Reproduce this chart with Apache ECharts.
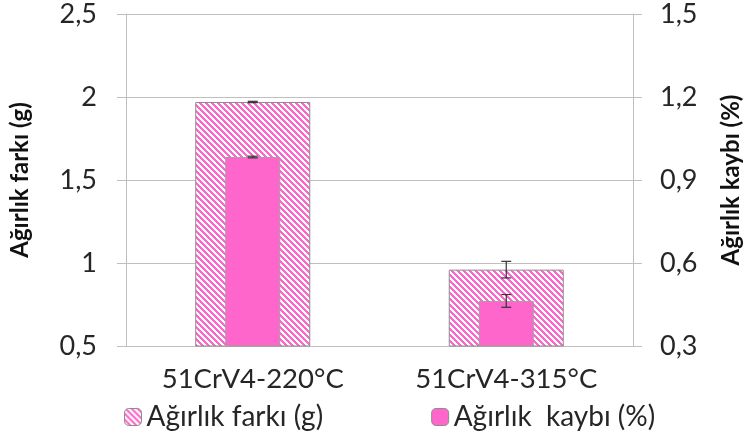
<!DOCTYPE html>
<html>
<head>
<meta charset="utf-8">
<script src="https://cdn.jsdelivr.net/npm/echarts@6/dist/echarts.min.js"></script>
<style>
  html, body { margin: 0; padding: 0; background: #fff; }
  #main { width: 751px; height: 445px; }
</style>
</head>
<body>
<div id="main"></div>
<script>
// data
var categories = ['51CrV4-220°C', '51CrV4-315°C'];
var farkValues = [1.97, 0.96];      // Ağırlık farkı (g), left axis
var farkErr = [0.004, 0.05];
var kaybiValues = [0.983, 0.463];   // Ağırlık kaybı (%), right axis
var kaybiErr = [0.003, 0.023];

var FONT = 'Lato';
var PINK = '#FF66CC';
var GRID = '#BFBFBF';
var TXT = '#262626';

// diagonal hatch pattern "\\\"
function makeHatch() {
  var n = 6;
  var c = document.createElement('canvas');
  c.width = n; c.height = n;
  var ctx = c.getContext('2d');
  var img = ctx.createImageData(n, n);
  for (var y = 0; y < n; y++) {
    for (var x = 0; x < n; x++) {
      var i = (y * n + x) * 4;
      var pink = ((x - y + n * 2) % n) < 3;
      img.data[i] = 255;
      img.data[i + 1] = pink ? 102 : 255;
      img.data[i + 2] = pink ? 204 : 255;
      img.data[i + 3] = 255;
    }
  }
  ctx.putImageData(img, 0, 0);
  return c;
}
var hatch = { image: makeHatch(), repeat: 'repeat' };

function errorBars(values, errs, xIdx, yIdx) {
  return {
    type: 'custom',
    xAxisIndex: xIdx,
    yAxisIndex: yIdx,
    silent: true,
    z: 10,
    data: values.map(function (v, i) { return [i, v - errs[i], v + errs[i]]; }),
    renderItem: function (params, api) {
      var lo = api.coord([api.value(0), api.value(1)]);
      var hi = api.coord([api.value(0), api.value(2)]);
      var w = 5;
      var st = { stroke: '#333', lineWidth: 1.2 };
      return {
        type: 'group',
        children: [
          { type: 'line', shape: { x1: lo[0], y1: lo[1], x2: hi[0], y2: hi[1] }, style: st },
          { type: 'line', shape: { x1: lo[0] - w, y1: lo[1], x2: lo[0] + w, y2: lo[1] }, style: st },
          { type: 'line', shape: { x1: hi[0] - w, y1: hi[1], x2: hi[0] + w, y2: hi[1] }, style: st }
        ]
      };
    }
  };
}

var chart = echarts.init(document.getElementById('main'), null, { renderer: 'canvas' });

var option = {
  animation: false,
  textStyle: { fontFamily: FONT },
  grid: { left: 119, right: 111, top: 14, bottom: 99, containLabel: false },
  legend: {
    left: 119,
    top: 398,
    itemWidth: 17,
    itemHeight: 17,
    itemGap: 108,
    itemStyle: { borderColor: '#8C8C8C', borderWidth: 1 },
    textStyle: { fontFamily: FONT, fontSize: 28, color: TXT },
    data: ['Ağırlık farkı (g)', 'Ağırlık  kaybı (%)']
  },
  xAxis: [{
    type: 'category',
    data: categories,
    axisLine: { lineStyle: { color: GRID } },
    axisTick: { length: 9, lineStyle: { color: GRID } },
    axisLabel: { fontFamily: FONT, fontSize: 27.5, color: TXT, margin: 19 }
  }, {
    type: 'category',
    data: categories,
    show: false
  }],
  yAxis: [{
    type: 'value',
    min: 0.5, max: 2.5, interval: 0.5,
    name: 'Ağırlık farkı (g)',
    nameLocation: 'middle',
    nameRotate: 90,
    nameGap: 94,
    nameTextStyle: { fontFamily: FONT, fontSize: 24, fontWeight: 'bold', color: '#111' },
    axisLine: { show: true, lineStyle: { color: GRID } },
    axisTick: { show: true, length: 9, lineStyle: { color: GRID } },
    splitLine: { lineStyle: { color: GRID } },
    axisLabel: {
      fontFamily: FONT, fontSize: 27, color: TXT, margin: 29,
      formatter: function (v) { return String(v).replace('.', ','); }
    }
  }, {
    type: 'value',
    min: 0.3, max: 1.5, interval: 0.3,
    position: 'right',
    name: 'Ağırlık kaybı (%)',
    nameLocation: 'middle',
    nameRotate: 90,
    nameGap: 86,
    nameTextStyle: { fontFamily: FONT, fontSize: 24, fontWeight: 'bold', color: '#111' },
    axisLine: { show: true, lineStyle: { color: GRID } },
    axisTick: { show: true, length: 9, lineStyle: { color: GRID } },
    splitLine: { show: false },
    axisLabel: {
      fontFamily: FONT, fontSize: 27, color: TXT, margin: 27,
      formatter: function (v) { return v.toFixed(1).replace('.', ','); }
    }
  }],
  series: [{
    name: 'Ağırlık farkı (g)',
    type: 'bar',
    xAxisIndex: 0,
    yAxisIndex: 0,
    barWidth: 115,
    data: farkValues,
    itemStyle: { color: hatch, borderColor: '#8C8C8C', borderWidth: 1 }
  }, {
    name: 'Ağırlık  kaybı (%)',
    type: 'bar',
    xAxisIndex: 1,
    yAxisIndex: 1,
    barWidth: 55,
    z: 3,
    data: kaybiValues,
    itemStyle: { color: PINK, borderColor: '#A0A0A0', borderWidth: 1 }
  },
  errorBars(farkValues, farkErr, 0, 0),
  errorBars(kaybiValues, kaybiErr, 1, 1)
  ]
};

chart.setOption(option);
</script>
</body>
</html>
